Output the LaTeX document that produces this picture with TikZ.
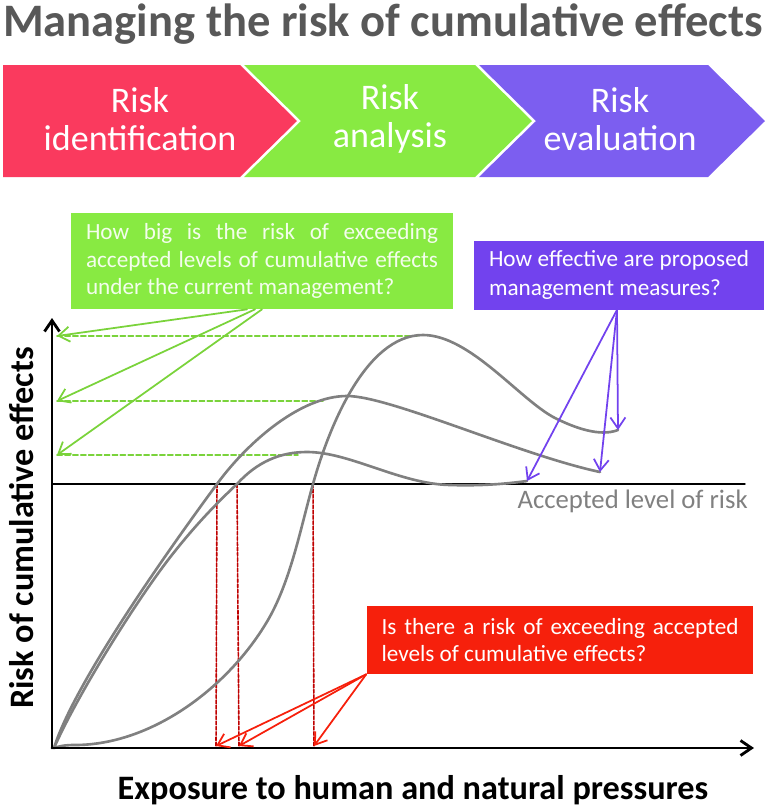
\documentclass[tikz,border=0pt]{standalone}
\usepackage{fontspec}
\setmainfont{Carlito}
\usepackage{tikz}
\usetikzlibrary{arrows.meta}
\usepackage{xcolor}
\definecolor{chevred}{RGB}{250,58,94}
\definecolor{chevgreen}{RGB}{136,234,66}
\definecolor{chevpurple}{RGB}{124,94,240}
\definecolor{boxred}{RGB}{246,32,12}
\definecolor{boxpurple}{RGB}{114,66,238}
\definecolor{titlegray}{RGB}{88,88,88}
\definecolor{curvegray}{RGB}{128,128,128}

\begin{document}
\begin{tikzpicture}[x=0.02cm,y=-0.02cm,>={Straight Barb[length=2.2mm,width=3mm]},line cap=round,
  curve/.style={draw=curvegray,line width=1.5pt},
  chevtext/.style={text=white,align=center,font=\fontsize{20.5}{21.6}\selectfont},
  qbox/.style={inner xsep=0.3cm,inner ysep=0pt,align=justify,font=\fontsize{13.2}{15.6}\selectfont},
  garrow/.style={->,draw=chevgreen!90!black,line width=1pt},
  parrow/.style={->,draw=boxpurple,line width=1pt},
  rarrow/.style={->,draw=boxred,line width=1pt},
  glevel/.style={draw=chevgreen!90!black,dashed,dash pattern=on 3pt off 1.5pt,line width=0.9pt},
  rdrop/.style={draw=red!75!black,dash pattern=on 2pt off 1pt,line width=0.9pt},
  axislab/.style={font=\bfseries\fontsize{19.5}{22}\selectfont}]
\useasboundingbox (0,0) rectangle (768,809);
\node[text=titlegray,font=\bfseries\fontsize{26.5}{30}\selectfont] (title) at (383,24) {Managing the risk of cumulative effects};
\fill[chevred] (3,65) -- (240,65) -- (297,121) -- (240,177) -- (3,177) -- cycle;
\fill[chevgreen] (244,65) -- (475,65) -- (532,121) -- (475,177) -- (244,177) -- (301,121) -- cycle;
\fill[chevpurple] (479,65) -- (708,65) -- (765,121) -- (708,177) -- (479,177) -- (536,121) -- cycle;
\node[chevtext] (ident) at (140,119) {Risk\\identification};
\node[chevtext] (analysis) at (390,119) {Risk\\analysis};
\node[chevtext] (evaluation) at (620,119) {Risk\\evaluation};
\node[qbox,fill=chevgreen,text=white!90!chevgreen,text width=7.04cm,minimum height=1.92cm] (gbox) at (262,261)
  {How big is the risk of exceeding\linebreak accepted levels of cumulative effects\linebreak under the current management?};
\node[qbox,fill=boxpurple,text=white,text width=5.2cm,minimum height=1.38cm,font=\fontsize{13.2}{16.5}\selectfont] (pbox) at (619,275)
  {How effective are proposed\linebreak management measures?};
\node[qbox,fill=boxred,text=white,text width=7.14cm,minimum height=1.36cm] (rbox) at (560,640)
  {Is there a risk of exceeding accepted\linebreak levels of cumulative effects?};
\coordinate (O) at (54,748);
\coordinate (ytop) at (52,318);
\coordinate (xend) at (754,748);
\coordinate (accL) at (52,484);
\coordinate (accR) at (745,484);
\coordinate (lvlA) at (57,336);
\coordinate (lvlB) at (57,401);
\coordinate (lvlC) at (57,455);
\coordinate (pkA) at (417,336);
\coordinate (pkB) at (323,401);
\coordinate (pkC) at (298,455);
\coordinate (endA) at (618,430);
\coordinate (endB) at (600,472);
\coordinate (endC) at (527,481);
\coordinate (cutB) at (217,484);
\coordinate (cutC) at (237,484);
\coordinate (cutA) at (313,484);
\coordinate (hitB) at (216,746);
\coordinate (hitC) at (239,746);
\coordinate (hitA) at (314,746);
\draw[glevel] (lvlA) -- (pkA);
\draw[glevel] (lvlB) -- (pkB);
\draw[glevel] (lvlC) -- (pkC);
\draw[rdrop] (cutB) -- (hitB);
\draw[rdrop] (cutC) -- (hitC);
\draw[rdrop] (cutA) -- (hitA);
\draw[line width=0.8pt] (accL) -- (accR);
\node[anchor=east,inner sep=0pt,text=curvegray,font=\fontsize{15.2}{17}\selectfont] (acc) at (748,501) {Accepted level of risk};
\draw[curve] (O) .. controls (60,746) and (65,745) .. (75,745)
  .. controls (150,745) and (225,690) .. (265,625)
  .. controls (290,585) and (300,530) .. (cutA)
  .. controls (328,430) and (365,335) .. (423,335)
  .. controls (470,335) and (520,400) .. (555,418)
  .. controls (575,428) and (600,437) .. (endA);
\draw[curve] (O) .. controls (72,690) and (150,575) .. (cutB)
  .. controls (247,443) and (300,396) .. (347,396)
  .. controls (390,396) and (520,455) .. (endB);
\draw[curve] (O) .. controls (75,700) and (130,610) .. (168,560)
  .. controls (195,525) and (218,502) .. (cutC)
  .. controls (257,462) and (280,452) .. (307,452)
  .. controls (350,452) and (400,484) .. (450,485)
  .. controls (480,486) and (505,484) .. (endC);
\draw[->,line width=1.6pt] (O) ++(-2,0) -- (ytop);
\draw[->,line width=1.6pt] (O) ++(-2,0) -- (xend);
\draw[garrow] ([xshift=-0.3cm]gbox.south) -- (lvlA);
\draw[garrow] ([xshift=-0.14cm]gbox.south) -- (lvlB);
\draw[garrow] (gbox.south) -- (lvlC);
\draw[parrow] ([xshift=-0.04cm]pbox.south) -- (endA);
\draw[parrow] ([xshift=-0.04cm]pbox.south) -- (endB);
\draw[parrow] ([xshift=-0.04cm]pbox.south) -- (endC);
\draw[rarrow] (rbox.south west) -- (hitB);
\draw[rarrow] (rbox.south west) -- (hitC);
\draw[rarrow] (rbox.south west) -- (hitA);
\node[rotate=90,axislab] (ylab) at (22,528) {Risk of cumulative effects};
\node[axislab] (xlab) at (413,790) {Exposure to human and natural pressures};
\end{tikzpicture}
\end{document}
